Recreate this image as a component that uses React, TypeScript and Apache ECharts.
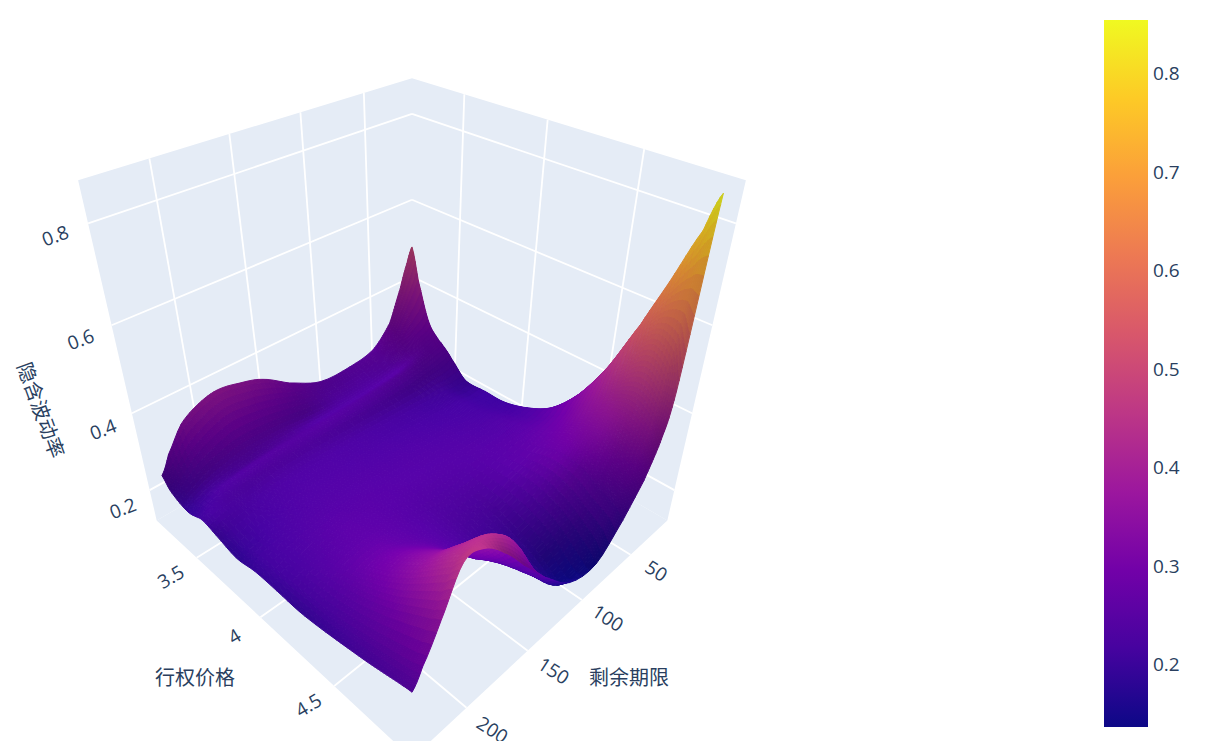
import React, { useEffect, useRef } from "react";
import * as echarts from "echarts";

// ---------- data ----------
const strikes = [3.2, 3.25, 3.33, 3.4, 3.45, 3.52, 3.63, 3.78, 3.92, 4.08, 4.23, 4.38, 4.52, 4.65, 4.75, 4.85, 4.9];
const maturities = [15, 20, 27, 38, 55, 78, 105, 131, 152, 170, 186, 200, 214, 226, 233];

const iv15 = [0.496, 0.415, 0.32, 0.285, 0.27, 0.245, 0.205, 0.205, 0.205, 0.225, 0.26, 0.33, 0.43, 0.555, 0.665, 0.78, 0.854];
const iv20 = [0.46, 0.385, 0.305, 0.278, 0.268, 0.24, 0.205, 0.205, 0.208, 0.225, 0.258, 0.32, 0.4, 0.5, 0.56, 0.54, 0.46];
const iv27 = [0.4, 0.35, 0.295, 0.27, 0.262, 0.235, 0.205, 0.205, 0.21, 0.225, 0.25, 0.3, 0.365, 0.41, 0.42, 0.39, 0.35];
const iv38 = [0.32, 0.3, 0.275, 0.262, 0.255, 0.232, 0.212, 0.213, 0.218, 0.233, 0.25, 0.283, 0.32, 0.335, 0.32, 0.295, 0.275];
const iv55 = [0.27, 0.265, 0.25, 0.247, 0.252, 0.228, 0.213, 0.216, 0.223, 0.233, 0.247, 0.265, 0.283, 0.275, 0.25, 0.23, 0.206];
const iv78 = [0.257, 0.25, 0.24, 0.24, 0.247, 0.228, 0.218, 0.22, 0.228, 0.236, 0.242, 0.246, 0.244, 0.228, 0.2, 0.165, 0.141];
const iv105 = [0.26, 0.25, 0.238, 0.237, 0.245, 0.231, 0.223, 0.226, 0.233, 0.238, 0.237, 0.231, 0.216, 0.195, 0.17, 0.14, 0.158];
const iv131 = [0.3, 0.275, 0.245, 0.237, 0.245, 0.233, 0.228, 0.23, 0.236, 0.24, 0.237, 0.231, 0.22, 0.21, 0.212, 0.225, 0.24];
const iv152 = [0.345, 0.3, 0.255, 0.24, 0.245, 0.235, 0.23, 0.233, 0.238, 0.243, 0.242, 0.241, 0.245, 0.26, 0.3, 0.36, 0.325];
const iv170 = [0.365, 0.315, 0.26, 0.24, 0.245, 0.235, 0.23, 0.233, 0.238, 0.246, 0.252, 0.261, 0.29, 0.325, 0.375, 0.425, 0.4];
const iv186 = [0.375, 0.32, 0.26, 0.237, 0.242, 0.233, 0.228, 0.23, 0.236, 0.248, 0.257, 0.28, 0.315, 0.355, 0.4, 0.44, 0.448];
const iv200 = [0.365, 0.305, 0.25, 0.23, 0.237, 0.228, 0.223, 0.223, 0.23, 0.24, 0.252, 0.275, 0.305, 0.345, 0.385, 0.425, 0.452];
const iv214 = [0.338, 0.28, 0.235, 0.222, 0.228, 0.225, 0.218, 0.213, 0.22, 0.226, 0.237, 0.25, 0.27, 0.295, 0.32, 0.345, 0.36];
const iv226 = [0.282, 0.24, 0.215, 0.207, 0.21, 0.22, 0.212, 0.202, 0.21, 0.213, 0.217, 0.223, 0.235, 0.25, 0.262, 0.275, 0.285];
const iv233 = [0.24, 0.215, 0.2, 0.195, 0.2, 0.21, 0.2, 0.185, 0.195, 0.195, 0.193, 0.2, 0.21, 0.22, 0.23, 0.24, 0.244];
const ivRows = [iv15, iv20, iv27, iv38, iv55, iv78, iv105, iv131, iv152, iv170, iv186, iv200, iv214, iv226, iv233];

const strikeTicks = [3.5, 4, 4.5];
const maturityTicks = [50, 100, 150, 200];
const ivTicks = [0.2, 0.4, 0.6, 0.8];
const colorbarTicks = [0.2, 0.3, 0.4, 0.5, 0.6, 0.7, 0.8];
const ivMin = 0.136;
const ivMax = 0.854;
const plasma = ["#0d0887", "#46039f", "#7201a8", "#9c179e", "#bd3786", "#d8576b", "#ed7953", "#fb9f3a", "#fdca26", "#f0f921"];

// ---------- scene ----------
const FONT = '"Open Sans", "Noto Sans CJK SC", sans-serif';
const INK = "#2a3f5f";
const WALL = "#e5ecf6";
const S2 = Math.SQRT2, S3 = Math.sqrt(3), S6 = Math.sqrt(6);
const EYE = 1.25, CX = 412, CY = 373, K = 886;

function project(x: number, y: number, z: number): number[] {
  const r = (x - y) / S2;
  const u = (-x - y + 2 * z) / S6;
  const d = EYE * S3 - (x + y + z) / S3;
  return [CX + (K * r) / d, CY - (K * u) / d];
}
function padded(lo: number, hi: number) {
  const p = (hi - lo) / 32;
  return (v: number) => (v - (lo - p)) / (hi - lo + 2 * p) - 0.5;
}
const nx = padded(strikes[0], strikes[strikes.length - 1]);
const ny = padded(maturities[0], maturities[maturities.length - 1]);
const nz = padded(ivMin, ivMax);

function hex(c: string) {
  return [1, 3, 5].map((i) => parseInt(c.slice(i, i + 2), 16));
}
const plasmaRgb = plasma.map(hex);
function colour(v: number, shade: number) {
  const t = Math.max(0, Math.min(0.9999, (v - ivMin) / (ivMax - ivMin))) * (plasma.length - 1);
  const i = Math.floor(t), f = t - i;
  const c = plasmaRgb[i].map((a, k) => (a + (plasmaRgb[i + 1][k] - a) * f) * shade);
  return `rgb(${c.map((a) => Math.round(Math.min(255, a))).join(",")})`;
}
function cr(a: number, b: number, c: number, d: number, t: number) {
  return b + 0.5 * t * (c - a + t * (2 * a - 5 * b + 4 * c - d + t * (3 * (b - c) + d - a)));
}
const rows = ivRows.length, cols = strikes.length;
function cell(j: number, i: number) {
  return ivRows[Math.max(0, Math.min(rows - 1, j))][Math.max(0, Math.min(cols - 1, i))];
}
function smooth(i: number, j: number, fx: number, fy: number) {
  const line = [-1, 0, 1, 2].map((dj) =>
    cr(cell(j + dj, i - 1), cell(j + dj, i), cell(j + dj, i + 1), cell(j + dj, i + 2), fx)
  );
  const v = cr(line[0], line[1], line[2], line[3], fy);
  const cs = [cell(j, i), cell(j, i + 1), cell(j + 1, i), cell(j + 1, i + 1)];
  return Math.max(Math.min(...cs) - 0.008, Math.min(Math.max(...cs) + 0.008, v));
}
// brightness at a grid node, from the slope of the surface there
function nodeShade(i: number, j: number) {
  const il = Math.max(0, i - 1), ir = Math.min(cols - 1, i + 1);
  const jl = Math.max(0, j - 1), jr = Math.min(rows - 1, j + 1);
  const sx = (nz(cell(j, ir)) - nz(cell(j, il))) / (nx(strikes[ir]) - nx(strikes[il]));
  const sy = (nz(cell(jr, i)) - nz(cell(jl, i))) / (ny(maturities[jr]) - ny(maturities[jl]));
  const len = Math.sqrt(sx * sx + sy * sy + 1);
  const a = Math.max(0.8, Math.min(1.05, 1.05 + (0.5 * sx) / len));
  const fall = Math.max(0, -sy / len);
  return a * (1 - 0.2 * fall * fall);
}

function renderCell(_p: any, api: any) {
  const i = api.value(0), j = api.value(1);
  const subX = i >= 11 ? 6 : 4;
  const subY = j < 4 ? 12 : j >= 6 && j < 12 ? 6 : 4;
  const xa = nx(strikes[i]), xb = nx(strikes[i + 1]);
  const ya = ny(maturities[j]), yb = ny(maturities[j + 1]);
  const s00 = nodeShade(i, j), s10 = nodeShade(i + 1, j), s01 = nodeShade(i, j + 1), s11 = nodeShade(i + 1, j + 1);
  const vals: number[][] = [];
  for (let b = 0; b <= subY; b++) {
    const r: number[] = [];
    for (let a = 0; a <= subX; a++) r.push(smooth(i, j, a / subX, b / subY));
    vals.push(r);
  }
  const children: any[] = [];
  const dx = (xb - xa) / subX, dy = (yb - ya) / subY;
  for (let b = 0; b < subY; b++) {
    for (let a = 0; a < subX; a++) {
      const v00 = vals[b][a], v10 = vals[b][a + 1], v01 = vals[b + 1][a], v11 = vals[b + 1][a + 1];
      const x0 = xa + a * dx, x1 = x0 + dx, y0 = ya + b * dy, y1 = y0 + dy;
      const u = (a + 0.5) / subX, w = (b + 0.5) / subY;
      const shade = (s00 * (1 - u) + s10 * u) * (1 - w) + (s01 * (1 - u) + s11 * u) * w;
      const fill = colour((v00 + v10 + v01 + v11) / 4, shade);
      children.push({
        type: "polygon",
        shape: {
          points: [
            project(x0, y0, nz(v00)),
            project(x1, y0, nz(v10)),
            project(x1, y1, nz(v11)),
            project(x0, y1, nz(v01)),
          ],
        },
        style: { fill, stroke: fill, lineWidth: 1 },
      });
    }
  }
  return { type: "group", children };
}

function wall(a: number[], b: number[], c: number[], d: number[]) {
  return {
    type: "polygon",
    shape: { points: [a, b, c, d].map((p) => project(p[0], p[1], p[2])) },
    style: { fill: WALL },
  };
}
function grid(a: number[], b: number[]) {
  const p = project(a[0], a[1], a[2]), q = project(b[0], b[1], b[2]);
  return {
    type: "line",
    shape: { x1: p[0], y1: p[1], x2: q[0], y2: q[1] },
    style: { stroke: "#ffffff", lineWidth: 1.8 },
  };
}
function label(text: string, x: number, y: number, rotation: number, size = 19) {
  return {
    type: "text",
    x,
    y,
    rotation,
    style: { text, fill: INK, font: `${size}px ${FONT}`, align: "center", verticalAlign: "middle" },
  };
}

function renderBox() {
  const h = 0.5;
  const ch: any[] = [
    wall([-h, -h, -h], [-h, h, -h], [-h, h, h], [-h, -h, h]),
    wall([-h, -h, -h], [h, -h, -h], [h, -h, h], [-h, -h, h]),
    wall([-h, -h, -h], [h, -h, -h], [h, h, -h], [-h, h, -h]),
  ];
  strikeTicks.forEach((s) => {
    const x = nx(s);
    ch.push(grid([x, -h, -h], [x, h, -h]), grid([x, -h, -h], [x, -h, h]));
  });
  maturityTicks.forEach((m) => {
    const y = ny(m);
    ch.push(grid([-h, y, -h], [h, y, -h]), grid([-h, y, -h], [-h, y, h]));
  });
  ivTicks.forEach((v) => {
    const z = nz(v);
    ch.push(grid([-h, -h, z], [-h, h, z]), grid([-h, -h, z], [h, -h, z]));
  });
  return { type: "group", children: ch };
}

function renderLabels() {
  const h = 0.5;
  const ch: any[] = [];
  strikeTicks.forEach((s) => {
    const p = project(nx(s), h, -h);
    ch.push(label(String(s), p[0] - 26, p[1] + 19, 0.54));
  });
  maturityTicks.forEach((m) => {
    const p = project(h, ny(m), -h);
    ch.push(label(String(m), p[0] + 26, p[1] + 16 + ((m - 50) / 150) * 6, -0.57));
  });
  ivTicks.forEach((v) => {
    const p = project(-h, h, nz(v));
    ch.push(label(v.toFixed(1), p[0] - 27 - (v - 0.2) * 10, p[1] + 18 - (v - 0.2) * 10, 0.36));
  });
  ch.push(label("行权价格", 195, 677, 0, 20));
  ch.push(label("剩余期限", 629, 677, 0, 20));
  ch.push(label("隐含波动率", 41, 410, -1.22, 20));
  return { type: "group", children: ch };
}

function renderBar(_p: any, api: any) {
  const a = api.coord([0, ivMax]);
  const b = api.coord([1, ivMin]);
  return {
    type: "rect",
    shape: { x: a[0], y: a[1], width: b[0] - a[0], height: b[1] - a[1] },
    style: {
      fill: new echarts.graphic.LinearGradient(
        0, 0, 0, 1,
        plasma.map((color, k) => ({ offset: 1 - k / (plasma.length - 1), color })).reverse()
      ),
    },
  };
}

export default function App() {
  const ref = useRef<HTMLDivElement>(null);
  useEffect(() => {
    document.body.style.margin = "0";
    document.body.style.background = "#ffffff";
    const chart = echarts.init(ref.current!, undefined, { renderer: "svg" });
    const cells: number[][] = [];
    for (let i = 0; i < cols - 1; i++) for (let j = 0; j < rows - 1; j++) cells.push([i, j]);
    chart.setOption({
      animation: false,
      backgroundColor: "#ffffff",
      grid: { left: 1104, top: 20, width: 44, height: 707 },
      xAxis: { type: "value", min: 0, max: 1, show: false },
      yAxis: {
        type: "value",
        min: ivMin,
        max: ivMax,
        position: "right",
        axisLine: { show: false },
        axisTick: { show: false },
        splitLine: { show: false },
        axisLabel: {
          customValues: colorbarTicks,
          color: INK,
          fontFamily: FONT,
          fontSize: 19,
          margin: 5,
          formatter: (v: number) => v.toFixed(1),
        },
      },
      graphic: [
        { type: "rect", z: 100, shape: { x: 0, y: 741, width: 1100, height: 14 }, style: { fill: "#ffffff" } },
      ],
      series: [
        { type: "custom", coordinateSystem: "cartesian2d", silent: true, z: 1, data: [[0, 1]], renderItem: renderBar, clip: false },
        { type: "custom", coordinateSystem: "none", silent: true, z: 2, data: [[0]], renderItem: renderBox },
        { type: "custom", coordinateSystem: "none", silent: true, z: 3, data: cells, renderItem: renderCell },
        { type: "custom", coordinateSystem: "none", silent: true, z: 4, data: [[0]], renderItem: renderLabels },
      ],
    });
    return () => chart.dispose();
  }, []);
  return <div ref={ref} style={{ width: 1224, height: 753 }} />;
}
